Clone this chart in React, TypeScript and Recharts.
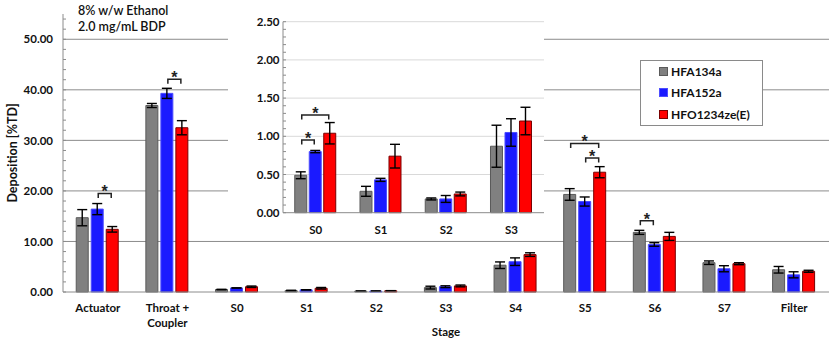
import React from 'react';
import { BarChart, Bar, XAxis, YAxis, CartesianGrid, ErrorBar, Legend, Rectangle, Text } from 'recharts';

// ---- data ----
const stages = ['Actuator', 'Throat + Coupler', 'S0', 'S1', 'S2', 'S3', 'S4', 'S5', 'S6', 'S7', 'Filter'];
const hfa134a = [14.7, 36.9, 0.49, 0.28, 0.18, 0.87, 5.3, 19.3, 11.8, 5.8, 4.4];
const hfa134aErr = [1.6, 0.4, 0.045, 0.065, 0.013, 0.275, 0.65, 1.15, 0.4, 0.35, 0.65];
const hfa152a = [16.4, 39.3, 0.8, 0.43, 0.18, 1.05, 6.0, 17.9, 9.4, 4.6, 3.4];
const hfa152aErr = [1.1, 1.0, 0.015, 0.02, 0.045, 0.18, 0.75, 0.9, 0.35, 0.6, 0.6];
const hfo1234ze = [12.4, 32.5, 1.04, 0.74, 0.245, 1.2, 7.4, 23.7, 11.0, 5.6, 4.1];
const hfo1234zeErr = [0.55, 1.4, 0.14, 0.155, 0.025, 0.18, 0.36, 1.1, 0.8, 0.2, 0.2];

const insetStages = ['S0', 'S1', 'S2', 'S3'];

const seriesNames = ['HFA134a', 'HFA152a', 'HFO1234ze(E)'];
const seriesFill = ['#808080', '#1a1aff', '#ff0000'];
const seriesStroke = ['#5a5a5a', '#4d4dff', '#7a0000'];

const mainTicks = [0, 2, 4, 6, 8, 10, 12, 14, 16, 18, 20, 22, 24, 26, 28, 30, 32, 34, 36, 38, 40, 42, 44, 46, 48, 50, 52, 54];
const mainMajor = [0, 10, 20, 30, 40, 50];
const mainGrid = [10, 20, 30, 40, 50];
const insetTicks = [0, 0.1, 0.2, 0.3, 0.4, 0.5, 0.6, 0.7, 0.8, 0.9, 1.0, 1.1, 1.2, 1.3, 1.4, 1.5, 1.6, 1.7, 1.8, 1.9, 2.0, 2.1, 2.2, 2.3, 2.4, 2.5];
const insetMajor = [0, 0.5, 1.0, 1.5, 2.0, 2.5];
const insetGrid = [0.5, 1.0, 1.5, 2.0, 2.5];

// significance brackets: series index from / to, bracket height in data units
const mainSig = [
  { stage: 'Actuator', from: 1, to: 2, level: 19.5 },
  { stage: 'Throat + Coupler', from: 1, to: 2, level: 42.1 },
  { stage: 'S5', from: 0, to: 2, level: 29.4 },
  { stage: 'S5', from: 1, to: 2, level: 26.5 },
  { stage: 'S6', from: 0, to: 1, level: 14.1 },
];
const insetSig = [
  { stage: 'S0', from: 0, to: 1, level: 0.95 },
  { stage: 'S0', from: 0, to: 2, level: 1.28 },
];

const noteLines = ['8% w/w Ethanol', '2.0 mg/mL BDP'];

// ---- build rows ----
const mainData = stages.map((stage, i) => ({
  stage,
  a: hfa134a[i], aErr: hfa134aErr[i],
  b: hfa152a[i], bErr: hfa152aErr[i],
  c: hfo1234ze[i], cErr: hfo1234zeErr[i],
  sig: mainSig.filter((s) => s.stage === stage),
}));
const insetData = insetStages.map((stage) => {
  const i = stages.indexOf(stage);
  return {
    stage,
    a: hfa134a[i], aErr: hfa134aErr[i],
    b: hfa152a[i], bErr: hfa152aErr[i],
    c: hfo1234ze[i], cErr: hfo1234zeErr[i],
    sig: insetSig.filter((s) => s.stage === stage),
  };
});

const FONT = 'Lato, "Liberation Sans", Arial, sans-serif';
const tickStyle = { fontFamily: FONT, fontSize: 11.5, fontWeight: 700, fill: '#111' };

const makeShape = (gap: number) => (props: any) => {
  const { x, y, width, height, payload } = props;
  const v = payload.a;
  const base = y + height;
  const k = v > 0 ? height / v : 0;
  const step = width + gap;
  return (
    <g>
      <Rectangle {...props} />
      {(payload.sig || []).map((s: any, j: number) => {
        const x1 = x + s.from * step + width / 2 + 1;
        const x2 = x + s.to * step + width / 2 - 1;
        const yl = base - s.level * k;
        return (
          <g key={j}>
            <path d={`M${x1},${yl + 4.5}V${yl}H${x2}V${yl + 4.5}`} fill="none" stroke="#222" strokeWidth={1.5} />
            <text x={(x1 + x2) / 2} y={yl + 4} textAnchor="middle" fontFamily='"Liberation Sans", Arial, sans-serif' fontWeight={700} fontSize={16} fill="#222">*</text>
          </g>
        );
      })}
    </g>
  );
};

const makeYTick = (major: number[], fmt: (v: number) => string) => (p: any) => {
  const v = p.payload.value;
  if (!major.some((m) => Math.abs(m - v) < 1e-6)) return <g />;
  return (
    <text x={p.x} y={p.y} dy="0.36em" textAnchor="end" {...tickStyle}>{fmt(v)}</text>
  );
};

const MainXTick = (p: any) => (
  <Text
    x={p.x}
    y={p.y}
    width={68}
    textAnchor="middle"
    verticalAnchor="start"
    lineHeight={15}
    style={tickStyle as any}
    {...(tickStyle as any)}
  >
    {p.payload.value}
  </Text>
);

const LegendBox = (props: any) => {
  const payload = props.payload || [];
  return (
    <div
      style={{
        width: 123, height: 66, boxSizing: 'border-box', border: '1px solid #8a8a8a', background: '#fff',
        display: 'flex', flexDirection: 'column', fontFamily: FONT, fontSize: 12, fontWeight: 700, color: '#111',
      }}
    >
      {payload.map((e: any, i: number) => (
        <div key={i} style={{ flex: 1, display: 'flex', alignItems: 'center', paddingLeft: 18 }}>
          <span style={{ display: 'inline-block', width: 7, height: 7, background: e.color, border: `1px solid ${seriesStroke[i]}`, marginRight: 3 }} />
          <span>{e.value}</span>
        </div>
      ))}
    </div>
  );
};

const bars = (gap: number) =>
  (['a', 'b', 'c'] as const).map((key, i) => (
    <Bar
      key={key}
      dataKey={key}
      name={seriesNames[i]}
      fill={seriesFill[i]}
      stroke={seriesStroke[i]}
      strokeWidth={1}
      isAnimationActive={false}
      shape={i === 0 ? makeShape(gap) : undefined}
    >
      <ErrorBar dataKey={`${key}Err`} width={5} stroke="#000" strokeWidth={1.4} />
    </Bar>
  ));

export default function App() {
  return (
    <div style={{ position: 'absolute', left: 0, top: 0, width: 830, height: 341, background: '#fff', fontFamily: FONT }}>
      <BarChart
        width={830}
        height={341}
        data={mainData}
        margin={{ top: 14, right: 1, left: 0, bottom: 0 }}
        barCategoryGap="19%"
        barGap={3}
      >
        <CartesianGrid vertical={false} horizontalValues={mainGrid} stroke="#8c8c8c" strokeWidth={1} />
        <XAxis
          dataKey="stage"
          height={49}
          axisLine={{ stroke: '#8c8c8c' }}
          tickLine={false}
          tickSize={6}
          tickMargin={6}
          interval={0}
          tick={MainXTick}
          label={{ value: 'Stage', position: 'insideBottom', offset: 5, style: { ...tickStyle } } as any}
        />
        <YAxis
          width={63}
          domain={[0, 55]}
          ticks={mainTicks}
          interval={0}
          axisLine={{ stroke: '#8c8c8c' }}
          tickLine={{ stroke: '#8c8c8c' }}
          tickSize={-3}
          tickMargin={13}
          tick={makeYTick(mainMajor, (v) => v.toFixed(2))}
          label={{ value: 'Deposition [%TD]', angle: -90, position: 'insideLeft', offset: 13, style: { ...tickStyle, fontSize: 12.5, textAnchor: 'middle' } } as any}
        />
        <Legend
          layout="vertical"
          verticalAlign="middle"
          align="center"
          content={LegendBox}
          wrapperStyle={{ position: 'absolute', left: 640, top: 60, width: 123, height: 66 }}
        />
        {bars(3)}
      </BarChart>

      <div style={{ position: 'absolute', left: 78, top: 3, fontFamily: FONT, fontSize: 12.5, fontWeight: 600, color: '#111', lineHeight: '16px' }}>
        {noteLines.map((l, i) => (
          <div key={i}>{l}</div>
        ))}
      </div>

      <div style={{ position: 'absolute', left: 228, top: 2, width: 316, height: 236, background: '#fff' }}>
        <BarChart
          width={316}
          height={236}
          data={insetData}
          margin={{ top: 19.7, right: 0, left: 0, bottom: 0 }}
          barCategoryGap="18%"
          barGap={2.5}
        >
          <CartesianGrid vertical={false} horizontalValues={insetGrid} stroke="#d9d9d9" strokeWidth={1} />
          <XAxis
            dataKey="stage"
            height={25.3}
            axisLine={{ stroke: '#8c8c8c' }}
            tickLine={false}
            tickSize={0}
            tickMargin={13}
            interval={0}
            tick={tickStyle}
          />
          <YAxis
            width={55}
            domain={[0, 2.5]}
            ticks={insetTicks}
            interval={0}
            axisLine={{ stroke: '#8c8c8c' }}
            tickLine={{ stroke: '#8c8c8c' }}
            tickSize={-3}
            tickMargin={6.5}
            tick={makeYTick(insetMajor, (v) => v.toFixed(2))}
          />
          {bars(2.5)}
        </BarChart>
      </div>
    </div>
  );
}
